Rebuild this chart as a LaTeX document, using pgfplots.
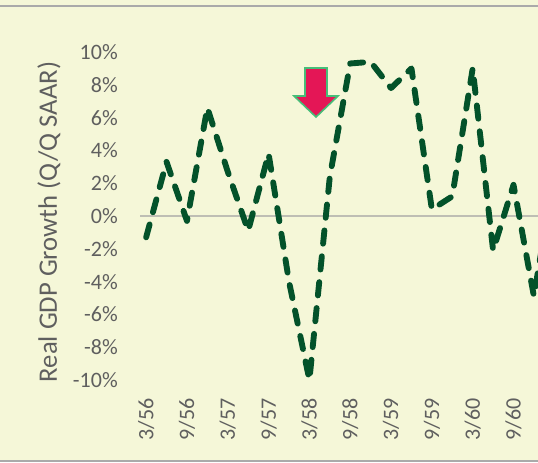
\documentclass[border=0pt]{standalone}
\usepackage{pgfplots}
\pgfplotsset{compat=1.18}
\usepackage{fontspec}
\setmainfont{Carlito}
\definecolor{bgyellow}{RGB}{245,247,216}
\definecolor{framegray}{RGB}{170,170,170}
\definecolor{zerogray}{RGB}{190,190,180}
\definecolor{labelgray}{RGB}{95,95,95}
\definecolor{gdpgreen}{RGB}{3,82,42}
\definecolor{arrowred}{RGB}{228,22,86}
\definecolor{arrowgreen}{RGB}{70,190,120}
\newcommand{\tickfont}{\fontsize{16.5}{19}\selectfont}
\newcommand{\titlefont}{\fontsize{20}{24}\selectfont}

\begin{document}
\begin{tikzpicture}
% chart area (1px = 0.75pt)
\fill[bgyellow] (0,0) rectangle (403.5pt,346.5pt);
\draw[framegray, line width=1.5pt] (0,342pt) -- (403.5pt,342pt);
\draw[framegray, line width=1.5pt] (0,1pt) -- (403.5pt,1pt);

\begin{axis}[
  at={(105pt,61.5pt)}, anchor=south west,
  width=298.5pt, height=246pt, scale only axis,
  xmin=-0.3, xmax=19.2,
  ymin=-10, ymax=10,
  axis line style={draw=none},
  tick style={draw=none},
  xtick={0,2,...,18},
  xticklabels={3/56,9/56,3/57,9/57,3/58,9/58,3/59,9/59,3/60,9/60},
  xticklabel style={rotate=90, anchor=east, inner sep=0pt, font=\tickfont, text=labelgray},
  xticklabel shift=13.5pt,
  ytick={-10,-8,...,10},
  yticklabels={-10\%,-8\%,-6\%,-4\%,-2\%,0\%,2\%,4\%,6\%,8\%,10\%},
  yticklabel style={anchor=east, inner sep=0pt, font=\tickfont, text=labelgray},
  yticklabel shift=16.5pt,
  ylabel={Real GDP Growth (Q/Q SAAR)},
  ylabel style={at={(axis description cs:-0.229,0.482)}, anchor=center, font=\titlefont, text=labelgray},
]
\draw[zerogray, line width=1.5pt] (axis cs:-0.3,0) -- (axis cs:19.2,0);
% quarterly real GDP growth, 1956Q1 = 0
\addplot[gdpgreen, line width=4.4pt, dash pattern=on 10pt off 9.5pt,
  line cap=round, line join=round, mark=none] coordinates {
  (0,-1.3) (1,3.3) (2,-0.3) (3,6.6) (4,2.7) (5,-0.9) (6,3.8) (7,-4.0)
  (8,-10.0) (9,2.4) (10,9.3) (11,9.4) (12,7.8) (13,9.0) (14,0.4) (15,1.2)
  (16,9.0) (17,-2.1) (18,1.9) (19,-4.9) (20,2.7)
};
\end{axis}

% recession marker
\draw[arrowgreen, line width=1.2pt, fill=arrowred, line join=miter]
  (228.75pt,295.5pt) -- (245.25pt,295.5pt) -- (245.25pt,274.5pt)
  -- (253.5pt,274.5pt) -- (237pt,258.75pt) -- (220.5pt,274.5pt)
  -- (228.75pt,274.5pt) -- cycle;

\pgfresetboundingbox
\path[use as bounding box] (0,0) rectangle (403.5pt,346.5pt);
\end{tikzpicture}
\end{document}
